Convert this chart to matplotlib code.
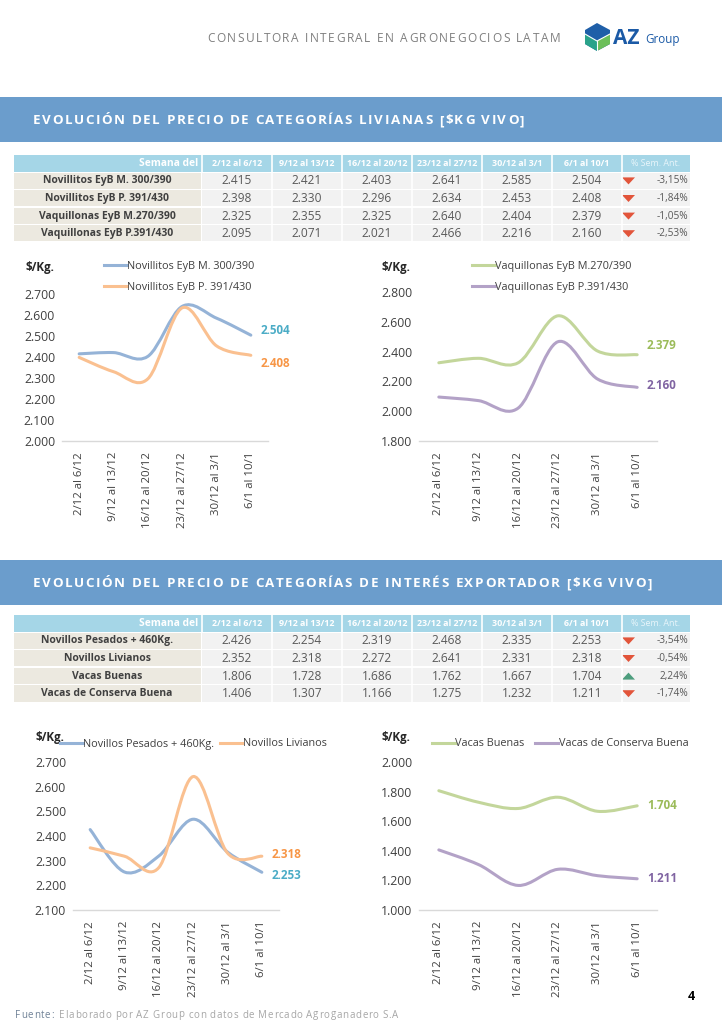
import numpy as np
import matplotlib
matplotlib.use("Agg")
from matplotlib import pyplot as plt
from matplotlib.path import Path
from matplotlib.patches import PathPatch, Rectangle, Polygon
from matplotlib.font_manager import FontProperties

plt.rcParams['font.family'] = ['Open Sans', 'DejaVu Sans']

# ---- data ----
weeks = ["2/12 al 6/12", "9/12 al 13/12", "16/12 al 20/12",
         "23/12 al 27/12", "30/12 al 3/1", "6/1 al 10/1"]

liv_names = ["Novillitos EyB M. 300/390", "Novillitos EyB P. 391/430",
             "Vaquillonas EyB M.270/390", "Vaquillonas EyB P.391/430"]
nov_m = [2415, 2421, 2403, 2641, 2585, 2504]
nov_p = [2398, 2330, 2296, 2634, 2453, 2408]
vaq_m = [2325, 2355, 2325, 2640, 2404, 2379]
vaq_p = [2095, 2071, 2021, 2466, 2216, 2160]
liv_pct = [-3.15, -1.84, -1.05, -2.53]

exp_names = ["Novillos Pesados + 460Kg.", "Novillos Livianos",
             "Vacas Buenas", "Vacas de Conserva Buena"]
nov_pes = [2426, 2254, 2319, 2468, 2335, 2253]
nov_liv = [2352, 2318, 2272, 2641, 2331, 2318]
vac_bue = [1806, 1728, 1686, 1762, 1667, 1704]
vac_con = [1406, 1307, 1166, 1275, 1232, 1211]
exp_pct = [-3.54, -0.54, 2.24, -1.74]

# legend labels as shown in the charts
leg_liv1 = ["Novillitos EyB M. 300/390", "Novillitos EyB P. 391/430"]
leg_liv2 = ["Vaquillonas EyB M.270/390", "Vaquillonas EyB P.391/430"]

BLUE, ORANGE, GREEN, PURPLE = "#95b3d7", "#fac090", "#c3d69b", "#b3a2c7"
LBL_BLUE, LBL_ORANGE, LBL_GREEN, LBL_PURPLE = "#4bacc6", "#f79646", "#9bbb59", "#8064a2"

W, H = 722, 1028
fig = plt.figure(figsize=(W / 100, H / 100), dpi=100)
fig.patch.set_facecolor("white")
renderer = fig.canvas.get_renderer()

bg = fig.add_axes([0, 0, 1, 1])
bg.set_xlim(0, W)
bg.set_ylim(H, 0)
bg.axis("off")


def fmt(v):
    return f"{v:,}".replace(",", ".")


def px_axes(x0, y_top, x1, y_bot):
    return fig.add_axes([x0 / W, 1 - y_bot / H, (x1 - x0) / W, (y_bot - y_top) / H])


def spaced(x, y, s, spacing, size, weight="normal", color="black"):
    # letter-spaced text, one glyph at a time on a common baseline
    prop = FontProperties(family=['Open Sans', 'DejaVu Sans'], size=size, weight=weight)

    def w(t):
        return (renderer.get_text_width_height_descent(t + "|", prop, ismath=False)[0]
                - renderer.get_text_width_height_descent("|", prop, ismath=False)[0])

    base = y + size * 0.5
    for i, ch in enumerate(s):
        if ch == " ":
            continue
        bg.text(x + w(s[:i]) + w(ch) / 2 + i * spacing, base, ch, ha="center",
                va="baseline", fontproperties=prop, color=color)
    return x + w(s) + len(s) * spacing


# ---- header ----
spaced(207, 38, "CONSULTORA INTEGRAL EN AGRONEGOCIOS LATAM", 1.55, 8.6, color="#7f7f7f")
hexa = [[597, 23], [610, 30], [610, 44], [597, 51], [585, 44], [585, 30]]
bg.add_patch(Polygon(hexa, closed=True, color="#1f5fa8", lw=0))
bg.add_patch(Polygon([[585, 34], [597, 41], [597, 51], [585, 44]], closed=True,
                     color="#2aa38a", lw=0))
bg.add_patch(Polygon([[597, 41], [610, 34], [610, 44], [597, 51]], closed=True,
                     color="#6cbf5a", lw=0))
bg.plot([585, 597, 610], [34, 41, 34], color="white", lw=0.8)
bg.plot([597, 597], [41, 51], color="white", lw=0.8)
bg.text(613, 39, "AZ", ha="left", va="center", fontsize=15, fontweight="bold",
        color="#1b5aa6")
bg.text(645, 40, "Group", ha="left", va="center", fontsize=8.4, color="#1b5aa6")


def banner(y0, y1, title):
    bg.add_patch(Rectangle((0, y0), W, y1 - y0, color="#6b9dcc", lw=0))
    spaced(33, (y0 + y1) / 2, title, 1.6, 9.6, weight="bold", color="white")


def table(y0, names, series, pct):
    rh = 17.6
    cols = [202 + 70 * i for i in range(7)] + [690]
    # header
    bg.add_patch(Rectangle((14, y0), 690 - 14, rh - 1, color="#a5d6e7", lw=0))
    for c in cols[:-1]:
        bg.plot([c, c], [y0, y0 + rh - 1], color="white", lw=1.2)
    bg.text(198, y0 + rh / 2, "Semana del", ha="right", va="center", fontsize=7.4,
            fontweight="bold", color="white")
    for i, wk in enumerate(weeks):
        bg.text(cols[i] + 35, y0 + rh / 2, wk, ha="center", va="center", fontsize=6.4,
                fontweight="bold", color="white")
    bg.text(656, y0 + rh / 2, "% Sem. Ant.", ha="center", va="center", fontsize=6.4,
            color="#e8f5fa")
    for r, name in enumerate(names):
        yt = y0 + rh * (r + 1)
        yc = yt + (rh - 1) / 2
        bg.add_patch(Rectangle((14, yt), 187, rh - 1.5, color="#ece9e0", lw=0))
        bg.add_patch(Rectangle((202, yt), 488, rh - 1.5, color="#f2f2f2", lw=0))
        for c in cols[1:-1]:
            bg.plot([c, c], [yt, yt + rh - 1.5], color="white", lw=1.2)
        bg.text(107, yc, name, ha="center", va="center", fontsize=7.5, fontweight="bold",
                color="#404040")
        for i, v in enumerate(series[r]):
            bg.text(cols[i] + 35, yc, fmt(v), ha="center", va="center", fontsize=8.6,
                    color="#595959")
        p = pct[r]
        if p < 0:
            bg.add_patch(Polygon([[622, yc - 3.5], [635, yc - 3.5], [628.5, yc + 3.5]],
                                 closed=True, color="#e2553b", lw=0))
        else:
            bg.add_patch(Polygon([[622, yc + 3.5], [635, yc + 3.5], [628.5, yc - 3.5]],
                                 closed=True, color="#4e9e7e", lw=0))
        bg.text(688, yc, f"{p:.2f}%".replace(".", ","), ha="right", va="center",
                fontsize=7.3, color="#595959")


def smooth(ax, ys, color):
    xs = np.arange(len(ys), dtype=float)
    pts = np.column_stack([xs, np.asarray(ys, dtype=float)])
    verts = [pts[0]]
    codes = [Path.MOVETO]
    n = len(pts)
    for i in range(n - 1):
        p0 = pts[max(i - 1, 0)]
        p1 = pts[i]
        p2 = pts[i + 1]
        p3 = pts[min(i + 2, n - 1)]
        c1 = p1 + (p2 - p0) / 6
        c2 = p2 - (p3 - p1) / 6
        verts += [c1, c2, p2]
        codes += [Path.CURVE4] * 3
    ax.add_patch(PathPatch(Path(verts, codes), fill=False, edgecolor=color, lw=2.2,
                           capstyle="round", joinstyle="round"))


def chart(box, series, colors, labels, ylim, step, lbl_colors, lbl_offsets,
          unit_xy, leg_xy, leg_kw):
    ax = px_axes(*box)
    ax.patch.set_alpha(0)
    for ys, c, lab in zip(series, colors, labels):
        smooth(ax, ys, c)
        ax.plot([], [], color=c, lw=2.2, label=lab)
    ax.set_xlim(-0.5, len(weeks) - 0.5)
    ax.set_ylim(*ylim)
    ax.set_yticks(np.arange(ylim[0], ylim[1] + 1, step))
    ax.set_yticklabels([fmt(int(v)) for v in ax.get_yticks()], fontsize=8.8,
                       color="#404040")
    ax.set_xticks(range(len(weeks)))
    ax.set_xticklabels(weeks, rotation=90, fontsize=8.2, color="#404040")
    ax.tick_params(axis="y", length=0, pad=5)
    ax.tick_params(axis="x", length=0, pad=8)
    for s in ["top", "right", "left"]:
        ax.spines[s].set_visible(False)
    ax.spines["bottom"].set_color("#d9d9d9")
    ax.spines["bottom"].set_linewidth(1)
    for ys, lc, off in zip(series, lbl_colors, lbl_offsets):
        ax.annotate(fmt(ys[-1]), (len(ys) - 1, ys[-1]), xytext=off,
                    textcoords="offset points", ha="left", va="center", fontsize=8.4,
                    fontweight="bold", color=lc)
    bg.text(unit_xy[0], unit_xy[1], "$/Kg.", ha="left", va="center", fontsize=8.4,
            fontweight="bold", color="#262626")
    leg = ax.legend(frameon=False, fontsize=7.8, handlelength=2.1, handletextpad=0.05,
                    borderaxespad=0, borderpad=0, loc="center left",
                    bbox_to_anchor=(leg_xy[0] / W, 1 - leg_xy[1] / H),
                    bbox_transform=fig.transFigure, **leg_kw)
    for t in leg.get_texts():
        t.set_color("#404040")
    return ax


banner(97, 142, "EVOLUCIÓN DEL PRECIO DE CATEGORÍAS LIVIANAS [$KG VIVO]")
table(155, liv_names, [nov_m, nov_p, vaq_m, vaq_p], liv_pct)

chart((62, 294, 268, 441), [nov_m, nov_p], [BLUE, ORANGE], leg_liv1, (2000, 2700), 100,
      [LBL_BLUE, LBL_ORANGE], [(7, 3), (7, -6)], (25, 268), (104, 277),
      dict(ncol=1, labelspacing=0.95))
chart((419, 292, 657, 441), [vaq_m, vaq_p], [GREEN, PURPLE], leg_liv2, (1800, 2800), 200,
      [LBL_GREEN, LBL_PURPLE], [(7, 7), (7, 1)], (382, 268), (472, 277),
      dict(ncol=1, labelspacing=0.95))

banner(560, 605, "EVOLUCIÓN DEL PRECIO DE CATEGORÍAS DE INTERÉS EXPORTADOR [$KG VIVO]")
table(615, exp_names, [nov_pes, nov_liv, vac_bue, vac_con], exp_pct)

chart((73, 762, 279, 910), [nov_pes, nov_liv], [BLUE, ORANGE], exp_names[:2],
      (2100, 2700), 100, [LBL_BLUE, LBL_ORANGE], [(7, -2), (7, 1)], (35, 737), (60, 744),
      dict(ncol=2, columnspacing=0.5))
chart((419, 762, 657, 910), [vac_bue, vac_con], [GREEN, PURPLE], exp_names[2:],
      (1000, 2000), 200, [LBL_GREEN, LBL_PURPLE], [(7, 0), (7, 0)], (382, 737), (432, 744),
      dict(ncol=2, columnspacing=1.0))

# ---- footer ----
end = spaced(15, 1014, "Fuente:", 0.7, 7, color="#6f8196")
spaced(end + 5, 1014, "Elaborado por AZ Group con datos de Mercado Agroganadero S.A", 0.68, 7,
       color="#a6a6a6")
bg.text(688, 997, "4", ha="left", va="center", fontsize=9, fontweight="bold", color="black")

fig.savefig("out.png", dpi=100)
